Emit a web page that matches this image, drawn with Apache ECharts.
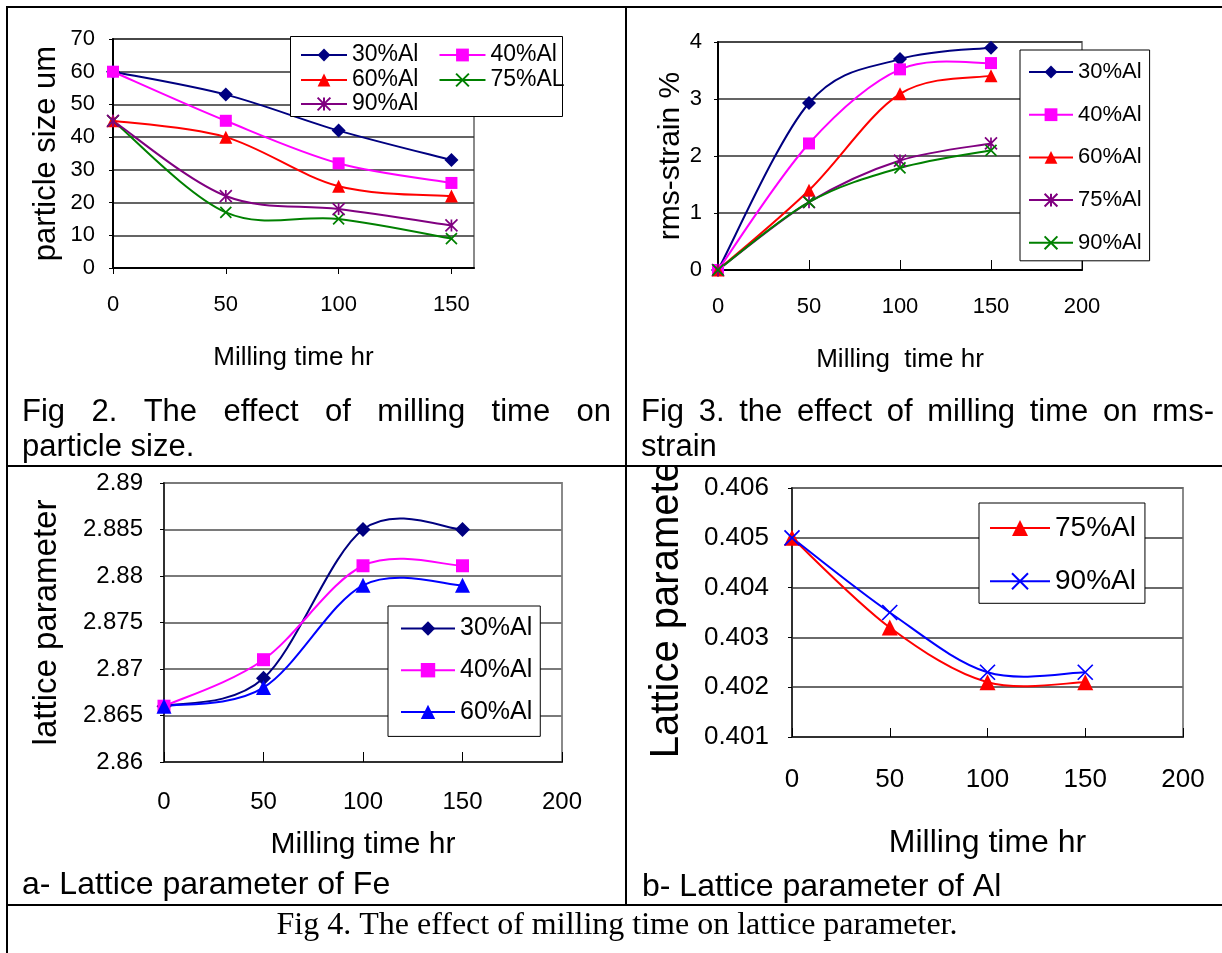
<!DOCTYPE html>
<html>
<head>
<meta charset="utf-8">
<script src="https://cdn.jsdelivr.net/npm/echarts@6.0.0/dist/echarts.min.js"></script>
<style>
html,body{margin:0;padding:0;background:#fff;}
#c{width:1222px;height:953px;}
</style>
</head>
<body>
<div id="c"></div>
<script>
// ---------------- data ----------------
const milling = [0, 50, 100, 150];

// Fig 2 : particle size (um)
const fig2Names = ['30%Al', '40%Al', '60%Al', '75%AL', '90%Al'];
const fig2_30 = [60, 53, 42, 33];
const fig2_40 = [60, 45, 32, 26];
const fig2_60 = [45, 40, 25, 22];
const fig2_75 = [45, 17, 15, 9];
const fig2_90 = [45, 22, 18, 13];
const fig2XTicks = [0, 50, 100, 150];
const fig2XMax = 160;
const fig2YTicks = [0, 10, 20, 30, 40, 50, 60, 70];

// Fig 3 : rms-strain %
const fig3Names = ['30%Al', '40%Al', '60%Al', '75%Al', '90%Al'];
const fig3_30 = [0, 2.93, 3.7, 3.9];
const fig3_40 = [0, 2.22, 3.52, 3.63];
const fig3_60 = [0, 1.4, 3.09, 3.41];
const fig3_75 = [0, 1.19, 1.92, 2.22];
const fig3_90 = [0, 1.19, 1.79, 2.1];
const fig3XTicks = [0, 50, 100, 150, 200];
const fig3YTicks = [0, 1, 2, 3, 4];

// Fig 4a : lattice parameter of Fe
const fig4aNames = ['30%Al', '40%Al', '60%Al'];
const fig4a_30 = [2.866, 2.869, 2.885, 2.885];
const fig4a_40 = [2.866, 2.871, 2.8811, 2.8811];
const fig4a_60 = [2.866, 2.868, 2.879, 2.879];
const fig4aXTicks = [0, 50, 100, 150, 200];
const fig4aYTicks = [2.86, 2.865, 2.87, 2.875, 2.88, 2.885, 2.89];

// Fig 4b : lattice parameter of Al
const fig4bNames = ['75%Al', '90%Al'];
const fig4b_75 = [0.405, 0.4032, 0.4021, 0.4021];
const fig4b_90 = [0.405, 0.4035, 0.4023, 0.4023];
const fig4bXTicks = [0, 50, 100, 150, 200];
const fig4bYTicks = [0.401, 0.402, 0.403, 0.404, 0.405, 0.406];

// ---------------- styling helpers ----------------
const SANS = '"Liberation Sans", Arial, sans-serif';
const SERIF = '"Liberation Serif", "Times New Roman", serif';
const NAVY = '#000080', MAGENTA = '#FF00FF', RED = '#FF0000', GREEN = '#008000', PURPLE = '#800080', BLUE = '#0000FF';
const SYM = {
  diamond: 'diamond',
  square: 'rect',
  triangle: 'triangle',
  cross: 'path://M0,0L10,10M10,0L0,10',
  star: 'path://M5,0L5,10M0,0L10,10M10,0L0,10'
};

function rangeOf(ticks) {
  return { min: ticks[0], max: ticks[ticks.length - 1], interval: +(ticks[1] - ticks[0]).toFixed(6) };
}

// markers (and legend entries)
function mkMarkers(prefix, label, vals, idx, color, sym, size) {
  const isPath = sym.indexOf('path://') === 0;
  return {
    name: prefix + '|' + label,
    type: 'line',
    xAxisIndex: idx,
    yAxisIndex: idx,
    data: milling.map((x, i) => [x, vals[i]]),
    symbol: sym,
    symbolSize: size,
    color: color,
    lineStyle: { color: color, width: 2, opacity: 0 },
    itemStyle: { color: color, borderColor: color, borderWidth: isPath ? 1.7 : 0 },
    emphasis: { disabled: true },
    silent: true,
    z: 3
  };
}

// Excel-style smoothed curve (Catmull-Rom bezier) through the same points
function mkCurve(prefix, label, vals, idx, color) {
  return {
    name: prefix + '|' + label + '|curve',
    type: 'custom',
    coordinateSystem: 'cartesian2d',
    xAxisIndex: idx,
    yAxisIndex: idx,
    data: milling.map((x, i) => [x, vals[i]]),
    encode: { x: 0, y: 1 },
    silent: true,
    z: 2,
    renderItem: function (params, api) {
      if (params.dataIndex !== 0) return null;
      const pts = milling.map((x, i) => api.coord([x, vals[i]]));
      const n = pts.length;
      const children = [];
      for (let i = 0; i < n - 1; i++) {
        const p0 = pts[Math.max(i - 1, 0)], p1 = pts[i], p2 = pts[i + 1], p3 = pts[Math.min(i + 2, n - 1)];
        children.push({
          type: 'bezierCurve',
          shape: {
            x1: p1[0], y1: p1[1], x2: p2[0], y2: p2[1],
            cpx1: p1[0] + (p2[0] - p0[0]) / 6, cpy1: p1[1] + (p2[1] - p0[1]) / 6,
            cpx2: p2[0] - (p3[0] - p1[0]) / 6, cpy2: p2[1] - (p3[1] - p1[1]) / 6
          },
          style: { stroke: color, lineWidth: 2, fill: 'none' }
        });
      }
      return { type: 'group', children: children };
    }
  };
}

function pair(prefix, label, vals, idx, color, sym, size) {
  return [mkCurve(prefix, label, vals, idx, color), mkMarkers(prefix, label, vals, idx, color, sym, size)];
}

function xAxis(idx, ticks, max, o) {
  const r = rangeOf(ticks);
  return {
    gridIndex: idx, type: 'value', min: r.min, max: max != null ? max : r.max, interval: r.interval,
    axisLine: { show: true, onZero: false, lineStyle: { color: o.axisColor, width: 2 } },
    axisTick: { show: true, inside: o.tickInside, length: o.tickLen, lineStyle: { color: '#000' }, customValues: ticks },
    axisLabel: { fontSize: o.fs, color: '#000', fontFamily: SANS, margin: o.margin, customValues: ticks },
    splitLine: { show: false },
    name: o.name, nameLocation: 'middle', nameGap: o.nameGap,
    nameTextStyle: { fontSize: o.nameFs, color: '#000', fontFamily: SANS }
  };
}

function yAxis(idx, ticks, o) {
  const r = rangeOf(ticks);
  return {
    gridIndex: idx, type: 'value', min: r.min, max: r.max, interval: r.interval,
    axisLine: { show: true, onZero: false, lineStyle: { color: o.axisColor, width: 2 } },
    axisTick: { show: true, inside: false, length: 4, lineStyle: { color: '#000' } },
    axisLabel: { fontSize: o.fs, color: '#000', fontFamily: SANS, margin: o.margin },
    splitLine: { show: true, lineStyle: { color: o.gridColor, width: o.gridWidth } },
    name: o.name, nameLocation: 'middle', nameGap: o.nameGap, nameRotate: 90,
    nameTextStyle: { fontSize: o.nameFs, color: '#000', fontFamily: SANS, padding: o.namePad || 0 }
  };
}

const fmt = n => n.split('|')[1];

function legend(names, o) {
  return Object.assign({
    data: names,
    formatter: fmt,
    selectedMode: false,
    padding: 0,
    lineStyle: { width: 2, opacity: 1 },
    textStyle: { fontSize: o.fs, lineHeight: o.lh, color: '#000', fontFamily: SANS },
    z: 4
  }, o.extra);
}

// ---------------- caption helpers ----------------
const mctx = document.createElement('canvas').getContext('2d');
function justified(words, x0, x1, y, size) {
  mctx.font = size + 'px "Liberation Sans"';
  const ws = words.map(w => mctx.measureText(w).width);
  const total = ws.reduce((a, b) => a + b, 0);
  const gap = (x1 - x0 - total) / (words.length - 1);
  let x = x0;
  return words.map((w, i) => {
    const el = { type: 'text', z: 60, style: { text: w, x: x, y: y, fontSize: size, fontFamily: SANS, fill: '#000', textAlign: 'left', textVerticalAlign: 'middle' } };
    x += ws[i] + gap;
    return el;
  });
}
function txt(t, x, y, size, family, align) {
  return { type: 'text', z: 60, style: { text: t, x: x, y: y, fontSize: size, fontFamily: family || SANS, fill: '#000', textAlign: align || 'left', textVerticalAlign: 'middle' } };
}
function hline(x1, x2, y) { return { type: 'line', z: 70, shape: { x1, y1: y, x2, y2: y }, style: { stroke: '#000', lineWidth: 2 } }; }
function vline(x, y1, y2) { return { type: 'line', z: 70, shape: { x1: x, y1, x2: x, y2 }, style: { stroke: '#000', lineWidth: 2 } }; }

// ---------------- option ----------------
const gridBase = { show: true, borderColor: '#8a8a8a', borderWidth: 2, backgroundColor: 'transparent', containLabel: false, outerBoundsMode: 'none' };

const series = [].concat(
  pair('f2', fig2Names[0], fig2_30, 0, NAVY, SYM.diamond, 14),
  pair('f2', fig2Names[1], fig2_40, 0, MAGENTA, SYM.square, 12),
  pair('f2', fig2Names[2], fig2_60, 0, RED, SYM.triangle, 13),
  pair('f2', fig2Names[3], fig2_75, 0, GREEN, SYM.cross, 11),
  pair('f2', fig2Names[4], fig2_90, 0, PURPLE, SYM.star, 12),

  pair('f3', fig3Names[0], fig3_30, 1, NAVY, SYM.diamond, 14),
  pair('f3', fig3Names[1], fig3_40, 1, MAGENTA, SYM.square, 12),
  pair('f3', fig3Names[2], fig3_60, 1, RED, SYM.triangle, 13),
  pair('f3', fig3Names[3], fig3_75, 1, PURPLE, SYM.star, 12),
  pair('f3', fig3Names[4], fig3_90, 1, GREEN, SYM.cross, 11),

  pair('f4a', fig4aNames[0], fig4a_30, 2, NAVY, SYM.diamond, 15),
  pair('f4a', fig4aNames[1], fig4a_40, 2, MAGENTA, SYM.square, 13),
  pair('f4a', fig4aNames[2], fig4a_60, 2, BLUE, SYM.triangle, 15),

  pair('f4b', fig4bNames[0], fig4b_75, 3, RED, SYM.triangle, 16),
  pair('f4b', fig4bNames[1], fig4b_90, 3, BLUE, SYM.cross, 15)
);

const graphic = [].concat(
  // Fig 2 legend frame
  [{ type: 'rect', z: 3.5, shape: { x: 290.5, y: 36.5, width: 272, height: 80 }, style: { fill: '#fff', stroke: '#000', lineWidth: 1 } }],
  // white mask that clips the Fig 4b axis title at the table rule
  [{ type: 'rect', z: 55, shape: { x: 630, y: 420, width: 90, height: 46 }, style: { fill: '#fff' } }],
  justified(['Fig', '2.', 'The', 'effect', 'of', 'milling', 'time', 'on'], 22, 611, 412, 31),
  [txt('particle size.', 22, 447, 31)],
  justified(['Fig', '3.', 'the', 'effect', 'of', 'milling', 'time', 'on', 'rms-'], 641, 1214, 412, 31),
  [txt('strain', 641, 447, 31)],
  [txt('a- Lattice parameter of Fe', 22, 885, 32)],
  [txt('b- Lattice parameter of Al', 642, 887, 32)],
  [txt('Fig 4. The effect of milling time on lattice parameter.', 617, 926, 32, SERIF, 'center')],
  [hline(6, 1222, 7), hline(6, 1222, 466), hline(6, 1222, 905), vline(7, 6, 953), vline(626, 6, 905)]
);

const option = {
  animation: false,
  backgroundColor: '#fff',
  grid: [
    Object.assign({ left: 113, top: 39, width: 361, height: 229 }, gridBase),
    Object.assign({ left: 718, top: 42, width: 364, height: 228 }, gridBase),
    Object.assign({ left: 164, top: 483, width: 398, height: 279 }, gridBase),
    Object.assign({ left: 792, top: 488, width: 391, height: 249 }, gridBase)
  ],
  xAxis: [
    xAxis(0, fig2XTicks, fig2XMax, { axisColor: '#000', tickInside: false, tickLen: 6, fs: 22, margin: 26, name: 'Milling time hr', nameGap: 77, nameFs: 26 }),
    xAxis(1, fig3XTicks, null, { axisColor: '#000', tickInside: true, tickLen: 10, fs: 22, margin: 26, name: 'Milling  time hr', nameGap: 77, nameFs: 26 }),
    xAxis(2, fig4aXTicks, null, { axisColor: '#303030', tickInside: true, tickLen: 10, fs: 24, margin: 28, name: 'Milling time hr', nameGap: 68, nameFs: 30 }),
    xAxis(3, fig4bXTicks, null, { axisColor: '#303030', tickInside: true, tickLen: 9, fs: 26, margin: 30, name: 'Milling time hr', nameGap: 90, nameFs: 32 })
  ],
  yAxis: [
    yAxis(0, fig2YTicks, { axisColor: '#000', fs: 22, margin: 18, gridColor: '#303030', gridWidth: 1.5, name: 'particle size um', nameGap: 51, nameFs: 31 }),
    yAxis(1, fig3YTicks, { axisColor: '#000', fs: 22, margin: 16, gridColor: '#303030', gridWidth: 1.5, name: 'rms-strain %', nameGap: 31, nameFs: 30 }),
    yAxis(2, fig4aYTicks, { axisColor: '#303030', fs: 24, margin: 21, gridColor: '#7a7a7a', gridWidth: 2, name: 'lattice parameter', nameGap: 101, nameFs: 33 }),
    yAxis(3, fig4bYTicks, { axisColor: '#303030', fs: 26, margin: 23, gridColor: '#6a6a6a', gridWidth: 2, name: 'Lattice parameter', nameGap: 105, nameFs: 40, namePad: [0, 0, 0, 20] })
  ],
  legend: [
    legend(['f2|30%Al', 'f2|40%Al'], { fs: 23, lh: 24, extra: { orient: 'horizontal', left: 300, top: 43, itemGap: 20, itemWidth: 46, itemHeight: 16 } }),
    legend(['f2|60%Al', 'f2|75%AL'], { fs: 23, lh: 24, extra: { orient: 'horizontal', left: 300, top: 68, itemGap: 20, itemWidth: 46, itemHeight: 16 } }),
    legend(['f2|90%Al'], { fs: 23, lh: 24, extra: { orient: 'horizontal', left: 300, top: 92, itemGap: 20, itemWidth: 46, itemHeight: 16 } }),
    legend(fig3Names.map(n => 'f3|' + n), { fs: 22, lh: 22, extra: { orient: 'vertical', left: 1020, top: 50, itemGap: 20.7, itemWidth: 44, itemHeight: 16, padding: [11, 8, 7, 8], borderColor: '#000', borderWidth: 1, backgroundColor: '#fff' } }),
    legend(fig4aNames.map(n => 'f4a|' + n), { fs: 25, lh: 25, extra: { orient: 'vertical', left: 388, top: 606, itemGap: 16.7, itemWidth: 54, itemHeight: 18, padding: [10, 8, 12, 12], borderColor: '#000', borderWidth: 1, backgroundColor: '#fff' } }),
    legend(fig4bNames.map(n => 'f4b|' + n), { fs: 28, lh: 28, extra: { orient: 'vertical', left: 979, top: 503, itemGap: 25.3, itemWidth: 60, itemHeight: 20, padding: [11, 9, 8, 10], borderColor: '#000', borderWidth: 1, backgroundColor: '#fff' } })
  ],
  series: series,
  graphic: graphic
};

const chart = echarts.init(document.getElementById('c'), null, { renderer: 'canvas' });
chart.setOption(option);
</script>
</body>
</html>
